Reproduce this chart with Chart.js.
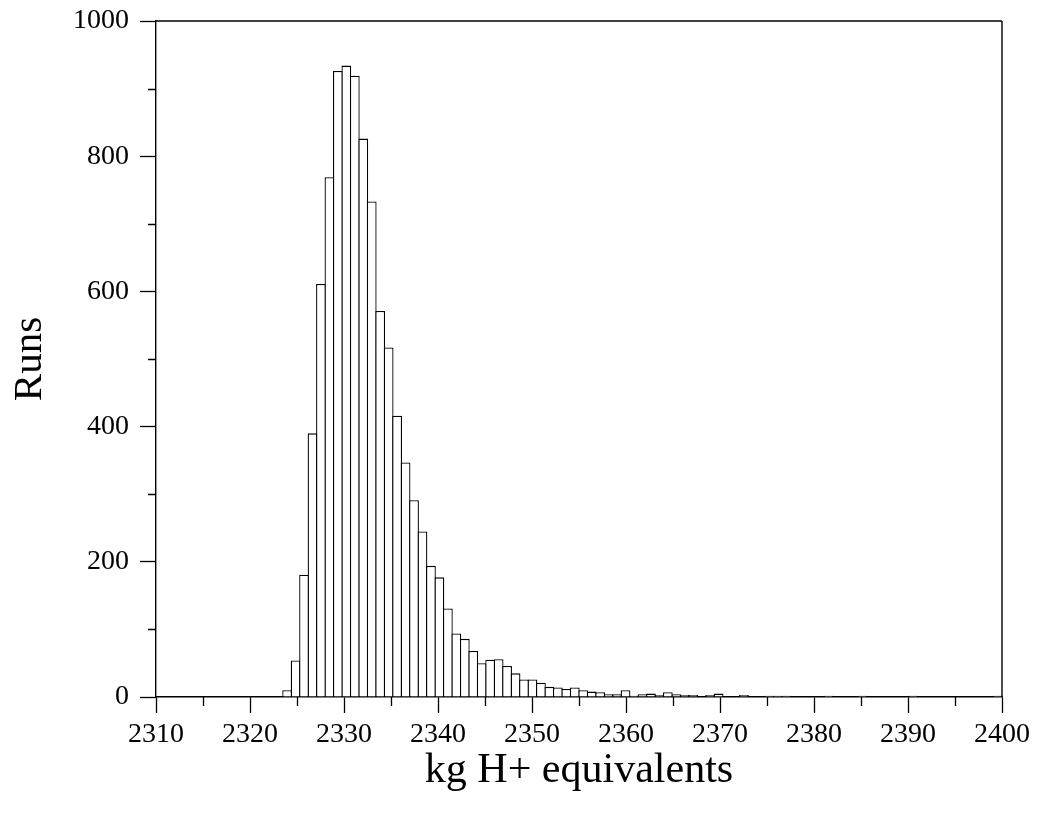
<!DOCTYPE html>
<html><head><meta charset="utf-8">
<script src="https://cdn.jsdelivr.net/npm/chart.js@4.4.0/dist/chart.umd.min.js"></script>
<style>html,body{margin:0;padding:0;background:#fff;}#wrap{width:1037px;height:823px;}</style>
</head><body><div id="wrap"><canvas id="c" width="1037" height="823"></canvas></div>
<script>
// Histogram: 100 bins of width 0.9 from 2310 to 2400
const binStart = 2310;
const binWidth = 0.9;
const runs = [
  0,0,0,0,0,0,0,0,0,0,
  0,0,0,0,0,10,54,181,390,611,
  769,926,934,919,826,733,571,517,416,347,
  291,245,194,177,131,94,86,68,50,55,
  56,46,35,26,26,21,15,14,12,14,
  10,8,7,4,4,10,2,4,5,3,
  7,4,3,3,1,3,5,0,0,3,
  1,1,2,2,2,1,0,0,0,2,
  0,0,0,2,0,0,0,0,0,2,
  0,0,0,1,0,0,0,0,0,2
];
const binCenters = runs.map((_, i) => +(binStart + binWidth * (i + 0.5)).toFixed(2));
const xMajorTicks = [2310,2320,2330,2340,2350,2360,2370,2380,2390,2400];
const yMajorTicks = [0,200,400,600,800,1000];
const xTitle = 'kg H+ equivalents';
const yTitle = 'Runs';

const FONT = 'Liberation Serif';
const BW = 1.3;

const extrasPlugin = {
  id: 'extras',
  afterDraw(chart) {
    const {ctx, chartArea: a, scales: {x, y}} = chart;
    ctx.save();
    ctx.strokeStyle = '#000';
    ctx.lineWidth = 1.4;
    // frame top & right
    ctx.beginPath();
    ctx.moveTo(a.left, a.top); ctx.lineTo(a.right, a.top);
    ctx.moveTo(a.right, a.top); ctx.lineTo(a.right, a.bottom);
    ctx.stroke();
    // minor ticks
    ctx.lineWidth = 1.3;
    ctx.beginPath();
    x.ticks.forEach(t => {
      if (!xMajorTicks.includes(t.value)) {
        const px = Math.round(x.getPixelForValue(t.value)) + 0.5;
        ctx.moveTo(px, a.bottom); ctx.lineTo(px, a.bottom + 9);
      }
    });
    y.ticks.forEach(t => {
      if (!yMajorTicks.includes(t.value)) {
        const py = Math.round(y.getPixelForValue(t.value)) + 0.5;
        ctx.moveTo(a.left, py); ctx.lineTo(a.left - 8, py);
      }
    });
    ctx.stroke();
    ctx.restore();
  }
};

new Chart(document.getElementById('c'), {
  type: 'bar',
  data: {
    datasets: [{
      data: binCenters.map((x, i) => ({x: x, y: runs[i]})),
      backgroundColor: '#fff',
      borderColor: '#000',
      borderWidth: BW,
      barPercentage: (binWidth * 94 / 10 + BW) / (binWidth * 94 / 10),
      categoryPercentage: 1,
      borderSkipped: 'start'
    }]
  },
  options: {
    responsive: false,
    animation: false,
    layout: {padding: {top: 21, right: 35, left: 0, bottom: 0}},
    plugins: {legend: {display: false}, tooltip: {enabled: false}},
    scales: {
      x: {
        type: 'linear', min: 2310, max: 2400, offset: false,
        ticks: {
          stepSize: 5, autoSkip: false, maxRotation: 0, padding: 5, color: '#000',
          font: {family: FONT, size: 28},
          callback: v => xMajorTicks.includes(v) ? String(v) : ''
        },
        grid: {
          drawOnChartArea: false, offset: false, tickLength: 16, tickWidth: 1.3,
          tickColor: c => (c.tick && xMajorTicks.includes(c.tick.value)) ? '#000' : 'rgba(0,0,0,0)'
        },
        border: {color: '#000', width: 1.4},
        title: {display: true, text: xTitle, color: '#000', font: {family: FONT, size: 42}, padding: {top: 0, bottom: 27}},
        afterFit: s => { s.height = 126; s.paddingLeft = 0; s.paddingRight = 0; }
      },
      y: {
        min: 0, max: 1000,
        ticks: {
          stepSize: 100, autoSkip: false, padding: 11, color: '#000',
          font: {family: FONT, size: 28},
          callback: v => yMajorTicks.includes(v) ? String(v) : ''
        },
        grid: {
          drawOnChartArea: false, tickLength: 16, tickWidth: 1.3,
          tickColor: c => (c.tick && yMajorTicks.includes(c.tick.value)) ? '#000' : 'rgba(0,0,0,0)'
        },
        border: {color: '#000', width: 1.4},
        title: {display: true, text: yTitle, color: '#000', font: {family: FONT, size: 41}, padding: {top: 6, bottom: 0}},
        afterFit: s => { s.width = 156; s.paddingTop = 0; s.paddingBottom = 0; }
      }
    }
  },
  plugins: [extrasPlugin]
});
</script>
</body></html>
